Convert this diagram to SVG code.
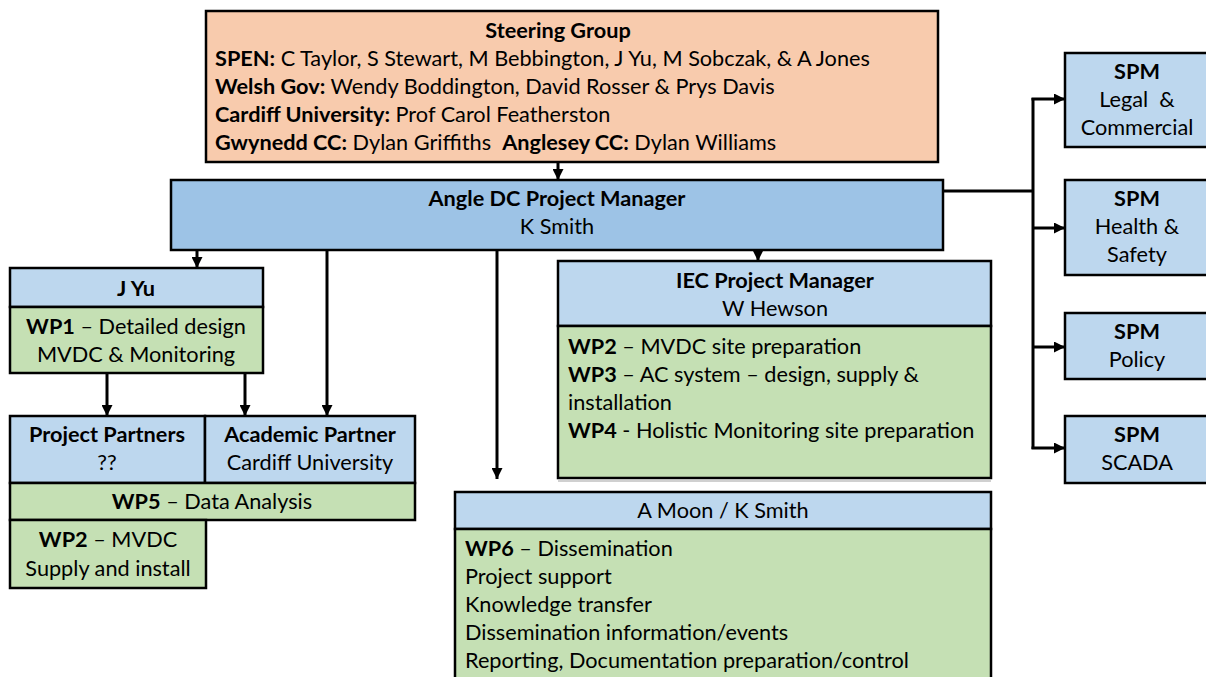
<svg xmlns="http://www.w3.org/2000/svg" width="1206" height="677" viewBox="0 0 1206 677">
<style>
text{font-family:Lato,"Liberation Sans",sans-serif;font-size:21.7px;fill:#000;white-space:pre}
.b{font-weight:bold}
.m{text-anchor:middle}
.box{stroke:#000;stroke-width:2.5}
.org{fill:#f8cbad}
.dk{fill:#9dc3e6}
.lt{fill:#bdd7ee}
.gr{fill:#c5e0b4}
.ln{stroke:#000;stroke-width:3;fill:none}
</style>
<defs>
<marker id="a" viewBox="0 0 10 10" refX="10" refY="5" markerWidth="11" markerHeight="11" markerUnits="userSpaceOnUse" orient="auto">
<path d="M0,0 L10,5 L0,10 z" fill="#000"/>
</marker>
</defs>
<rect x="558" y="480" width="433" height="2" fill="#d0d0d0"/>
<g id="steering">
<rect class="box org" x="206" y="11" width="732" height="151"/>
<text class="m b" x="558" y="38">Steering Group</text>
<text x="215" y="66"><tspan class="b">SPEN:</tspan> C Taylor, S Stewart, M Bebbington, J Yu, M Sobczak, &amp; A Jones</text>
<text x="215" y="94"><tspan class="b">Welsh Gov:</tspan> Wendy Boddington, David Rosser &amp; Prys Davis</text>
<text x="215" y="122"><tspan class="b">Cardiff University:</tspan> Prof Carol Featherston</text>
<text x="215" y="150"><tspan class="b">Gwynedd CC:</tspan> Dylan Griffiths  <tspan class="b">Anglesey CC:</tspan> Dylan Williams</text>
</g>
<g id="angle-pm">
<rect class="box dk" x="171" y="180" width="772" height="70"/>
<text class="m b" x="557" y="206">Angle DC Project Manager</text>
<text class="m" x="557" y="234">K Smith</text>
</g>
<g id="jyu">
<rect class="box lt" x="10" y="268" width="253" height="39"/>
<text class="m b" x="136" y="296">J Yu</text>
<rect class="box gr" x="10" y="307" width="253" height="66"/>
<text class="m" x="136" y="334"><tspan class="b">WP1</tspan> – Detailed design</text>
<text class="m" x="136" y="362">MVDC &amp; Monitoring</text>
</g>
<g id="project-partners">
<rect class="box lt" x="10" y="416" width="195" height="67"/>
<text class="m b" x="107" y="442">Project Partners</text>
<text class="m" x="107" y="470">??</text>
</g>
<g id="academic-partner">
<rect class="box lt" x="205" y="416" width="210" height="67"/>
<text class="m b" x="310" y="442">Academic Partner</text>
<text class="m" x="310" y="470">Cardiff University</text>
</g>
<g id="wp5">
<rect class="box gr" x="10" y="483" width="405" height="37"/>
<text class="m" x="212" y="509"><tspan class="b">WP5</tspan> – Data Analysis</text>
</g>
<g id="wp2-mvdc">
<rect class="box gr" x="10" y="520" width="196" height="68"/>
<text class="m" x="108" y="547"><tspan class="b">WP2</tspan> – MVDC</text>
<text class="m" x="108" y="576">Supply and install</text>
</g>
<g id="iec-pm">
<rect class="box lt" x="558" y="261" width="433" height="65"/>
<text class="m b" x="775" y="288">IEC Project Manager</text>
<text class="m" x="775" y="316">W Hewson</text>
<rect class="box gr" x="558" y="326" width="433" height="152"/>
<text x="568" y="354"><tspan class="b">WP2</tspan> – MVDC site preparation</text>
<text x="568" y="382"><tspan class="b">WP3</tspan> – AC system – design, supply &amp;</text>
<text x="568" y="410">installation</text>
<text x="568" y="438"><tspan class="b">WP4</tspan> - Holistic Monitoring site preparation</text>
</g>
<g id="amoon">
<rect class="box lt" x="455" y="492" width="536" height="37"/>
<text class="m" x="723" y="518">A Moon / K Smith</text>
<rect class="box gr" x="455" y="529" width="536" height="160"/>
<text x="465" y="556"><tspan class="b">WP6</tspan> – Dissemination</text>
<text x="465" y="584">Project support</text>
<text x="465" y="612">Knowledge transfer</text>
<text x="465" y="640">Dissemination information/events</text>
<text x="465" y="668">Reporting, Documentation preparation/control</text>
</g>
<g id="spm-legal">
<rect class="box lt" x="1065" y="53" width="150" height="94"/>
<text class="m b" x="1137" y="79">SPM</text>
<text class="m" x="1137" y="107">Legal  &amp;</text>
<text class="m" x="1137" y="135">Commercial</text>
</g>
<g id="spm-hs">
<rect class="box lt" x="1065" y="180" width="150" height="95"/>
<text class="m b" x="1137" y="206">SPM</text>
<text class="m" x="1137" y="234">Health &amp;</text>
<text class="m" x="1137" y="262">Safety</text>
</g>
<g id="spm-policy">
<rect class="box lt" x="1065" y="313" width="150" height="66"/>
<text class="m b" x="1137" y="339">SPM</text>
<text class="m" x="1137" y="367">Policy</text>
</g>
<g id="spm-scada">
<rect class="box lt" x="1065" y="416" width="150" height="67"/>
<text class="m b" x="1137" y="442">SPM</text>
<text class="m" x="1137" y="470">SCADA</text>
</g>
<g id="connectors">
<path class="ln" d="M558,162 V180" marker-end="url(#a)"/>
<path class="ln" d="M197,250 V268" marker-end="url(#a)"/>
<path class="ln" d="M327,250 V416" marker-end="url(#a)"/>
<path class="ln" d="M497,250 V479" marker-end="url(#a)"/>
<path class="ln" d="M758,250 V261" marker-end="url(#a)"/>
<path class="ln" d="M107,373 V416" marker-end="url(#a)"/>
<path class="ln" d="M245,373 V416" marker-end="url(#a)"/>
<path class="ln" d="M943,191 H1033"/>
<path class="ln" d="M1033,98 V449"/>
<path class="ln" d="M1031.5,99 H1065" marker-end="url(#a)"/>
<path class="ln" d="M1033,228 H1065" marker-end="url(#a)"/>
<path class="ln" d="M1033,347 H1065" marker-end="url(#a)"/>
<path class="ln" d="M1031.5,448 H1065" marker-end="url(#a)"/>
</g>
</svg>
